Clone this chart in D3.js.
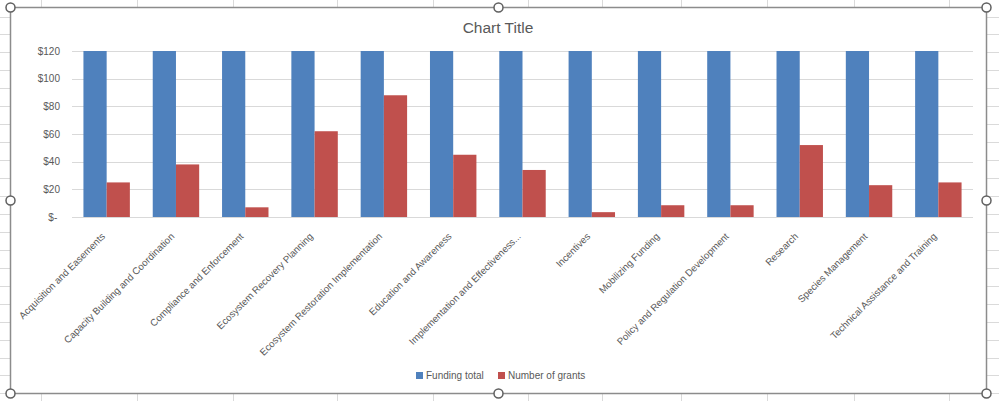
<!DOCTYPE html>
<html><head><meta charset="utf-8">
<script src="https://cdn.jsdelivr.net/npm/d3@7"></script>
<style>
body{margin:0;background:#fff}
svg{display:block}
text{font-family:"Liberation Sans",Arial,sans-serif}
</style>
</head><body>
<svg id="c" width="999" height="401"></svg>
<script>
const categories = [
  "Acquisition and Easements",
  "Capacity Building and Coordination",
  "Compliance and Enforcement",
  "Ecosystem Recovery Planning",
  "Ecosystem Restoration Implementation",
  "Education and Awareness",
  "Implementation and Effectiveness...",
  "Incentives",
  "Mobilizing Funding",
  "Policy and Regulation Development",
  "Research",
  "Species Management",
  "Technical Assistance and Training"
];
const seriesNames = ["Funding total", "Number of grants"];
const fundingTotal = [120, 120, 120, 120, 120, 120, 120, 120, 120, 120, 120, 120, 120];
const numberOfGrants = [25, 38, 7, 62, 88, 45, 34, 3.5, 8.5, 8.5, 52, 23, 25];
const yTicks = [0, 20, 40, 60, 80, 100, 120];
const chartTitle = "Chart Title";

const colors = ["#4f81bd", "#c0504d"];
const svg = d3.select("#c");
const W = 999, H = 401;

// spreadsheet background grid
const colLines = [41, 137, 233, 337, 433, 528, 602, 681, 767, 854, 949];
const bg = svg.append("g");
bg.append("rect").attr("width", W).attr("height", H).attr("fill", "#fff");
colLines.forEach(x => bg.append("line").attr("x1", x + 0.5).attr("x2", x + 0.5)
  .attr("y1", 0).attr("y2", H).attr("stroke", "#dadada"));
for (let y = 16.5; y < H; y += 17.95) {
  bg.append("line").attr("x1", 0).attr("x2", W).attr("y1", Math.round(y) + 0.5).attr("y2", Math.round(y) + 0.5)
    .attr("stroke", "#dadada");
}

// chart area
const frame = {x: 10.5, y: 7.5, w: 976, h: 386};
svg.append("rect").attr("x", frame.x).attr("y", frame.y).attr("width", frame.w).attr("height", frame.h)
  .attr("fill", "#fff");

const plot = {left: 72, right: 973, top: 51, bottom: 217};
const x0 = d3.scaleBand().domain(categories).range([plot.left, plot.right])
  .paddingInner(0.33).paddingOuter(0.165);
const x1 = d3.scaleBand().domain(seriesNames).range([0, x0.bandwidth()]);
const y = d3.scaleLinear().domain([0, 120]).range([plot.bottom, plot.top]);

// gridlines
svg.append("g").selectAll("line").data(yTicks).join("line")
  .attr("x1", plot.left).attr("x2", plot.right)
  .attr("y1", d => Math.round(y(d)) + 0.5).attr("y2", d => Math.round(y(d)) + 0.5)
  .attr("stroke", "#d9d9d9").attr("stroke-width", 1);

// y axis
const yAxis = d3.axisLeft(y).tickValues(yTicks).tickSize(0).tickPadding(0)
  .tickFormat(d => d === 0 ? "$-\u00A0" : "$" + d);
const gy = svg.append("g").attr("transform", `translate(${plot.left - 12},0)`).call(yAxis);
gy.select(".domain").remove();
gy.selectAll("text").attr("fill", "#595959").style("font-size", "10px")
  .style("font-family", '"Liberation Sans",Arial,sans-serif');

// bars
const series = [fundingTotal, numberOfGrants];
const groups = svg.append("g").selectAll("g").data(categories).join("g")
  .attr("transform", d => `translate(${x0(d)},0)`);
groups.selectAll("rect").data((d, i) => seriesNames.map((s, k) => ({s, v: series[k][i], k})))
  .join("rect")
  .attr("x", d => x1(d.s)).attr("width", x1.bandwidth())
  .attr("y", d => y(d.v)).attr("height", d => y(0) - y(d.v))
  .attr("fill", d => colors[d.k]);

// x axis labels
const xAxis = d3.axisBottom(x0).tickSize(0).tickPadding(0);
const gx = svg.append("g").attr("transform", `translate(0,${plot.bottom})`).call(xAxis);
gx.select(".domain").remove();
gx.selectAll("text")
  .attr("fill", "#595959").style("font-size", "9.7px")
  .style("font-family", '"Liberation Sans",Arial,sans-serif')
  .attr("text-anchor", "end")
  .attr("y", 0).attr("dy", 0)
  .attr("transform", "translate(-1,20) rotate(-45)");

// title
svg.append("text").attr("x", 498).attr("y", 33).attr("text-anchor", "middle")
  .attr("fill", "#595959").style("font-size", "15.5px").text(chartTitle);

// legend
const legendX = [416, 498];
const lg = svg.append("g").selectAll("g").data(seriesNames).join("g")
  .attr("transform", (d, i) => `translate(${legendX[i]},372)`);
lg.append("rect").attr("width", 7).attr("height", 7).attr("fill", (d, i) => colors[i]);
lg.append("text").attr("x", 10).attr("y", 7).attr("fill", "#595959")
  .style("font-size", "10px").text(d => d);

// selection frame & handles
svg.append("rect").attr("x", frame.x).attr("y", frame.y).attr("width", frame.w).attr("height", frame.h)
  .attr("fill", "none").attr("stroke", "#8c8c8c").attr("stroke-width", 1.5);
const hx = [frame.x, frame.x + frame.w / 2, frame.x + frame.w];
const hy = [frame.y, frame.y + frame.h / 2, frame.y + frame.h];
const handles = [];
hx.forEach((xx, i) => hy.forEach((yy, j) => { if (!(i === 1 && j === 1)) handles.push([xx, yy]); }));
svg.append("g").selectAll("circle").data(handles).join("circle")
  .attr("cx", d => d[0]).attr("cy", d => d[1]).attr("r", 4.5)
  .attr("fill", "#fff").attr("stroke", "#5f5f5f").attr("stroke-width", 1.5);
</script>
</body></html>
